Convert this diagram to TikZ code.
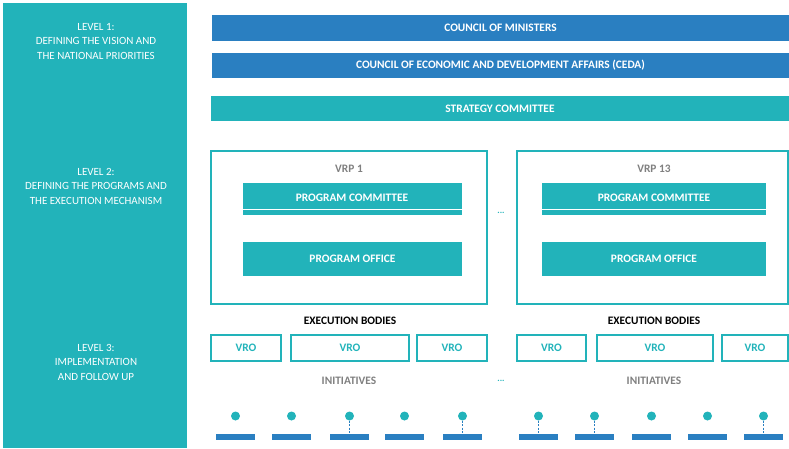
\documentclass[tikz,border=0pt]{standalone}
\usepackage{fontspec}
\setmainfont{Carlito}

\definecolor{panelteal}{HTML}{22B3BA}
\definecolor{barblue}{HTML}{2A7FC1}
\definecolor{labelgrey}{HTML}{808080}

\tikzset{
  corner/.style={anchor=north west, inner sep=0pt, outer sep=0pt},
  boldfont/.style={font=\bfseries\fontsize{11.4}{13}\selectfont},
  bluebar/.style={corner, boldfont, fill=barblue, text=white},
  tealbar/.style={corner, boldfont, fill=panelteal, text=white},
  vrpbox/.style={corner, draw=panelteal, line width=1.2pt},
  vrobox/.style={corner, boldfont, draw=panelteal, line width=1.2pt, text=panelteal},
  leveltext/.style={text=white, align=center, font=\fontsize{11}{14.5}\selectfont},
  heading/.style={boldfont},
  initdot/.style={circle, fill=panelteal, inner sep=0pt, minimum size=9pt},
  initbar/.style={corner, fill=barblue, minimum width=39pt, minimum height=6pt},
  stem/.style={barblue, dashed, dash pattern=on 2pt off 1.5pt, line width=0.6pt},
  dots/.style={text=panelteal, font=\bfseries\fontsize{9}{10}\selectfont}
}

\begin{document}
\begin{tikzpicture}[x=1pt,y=-1pt]
  \useasboundingbox (0,0) rectangle (789,448);

  % levels
  \fill[panelteal] (3,3) rectangle (187,448);
  \node[leveltext] (lvl1) at (96,41) {LEVEL 1:\\DEFINING THE VISION AND\\THE NATIONAL PRIORITIES};
  \node[leveltext] (lvl2) at (96,186) {LEVEL 2:\\DEFINING THE PROGRAMS AND\\THE EXECUTION MECHANISM};
  \node[leveltext] (lvl3) at (96,362) {LEVEL 3:\\IMPLEMENTATION\\AND FOLLOW UP};

  % councils
  \node[bluebar, minimum width=577pt, minimum height=26pt] (ministers) at (212,15) {COUNCIL OF MINISTERS};
  \node[bluebar, minimum width=577pt, minimum height=25pt] (ceda) at (212,53) {COUNCIL OF ECONOMIC AND DEVELOPMENT AFFAIRS (CEDA)};
  \node[tealbar, minimum width=578pt, minimum height=25pt] (strategy) at (211,96) {STRATEGY COMMITTEE};

  % programs
  \node[vrpbox, minimum width=276pt, minimum height=153pt] (vrp1) at (211,151) {};
  \node[heading, text=labelgrey] (vrp1t) at (349,169) {VRP 1};
  \node[tealbar, minimum width=219pt, minimum height=32pt] (pc1) at (243,183) {};
  \draw[white, line width=0.9pt] (243,209) -- (462,209);
  \node[boldfont, text=white] (pc1t) at (352,198) {PROGRAM COMMITTEE};
  \node[tealbar, minimum width=219pt, minimum height=34pt] (po1) at (243,242) {PROGRAM OFFICE};

  \node[dots] (gap1) at (501,213) {...};

  \node[vrpbox, minimum width=271pt, minimum height=153pt] (vrp13) at (517,151) {};
  \node[heading, text=labelgrey] (vrp13t) at (654,169) {VRP 13};
  \node[tealbar, minimum width=224pt, minimum height=32pt] (pc13) at (542,183) {};
  \draw[white, line width=0.9pt] (542,209) -- (766,209);
  \node[boldfont, text=white] (pc13t) at (654,198) {PROGRAM COMMITTEE};
  \node[tealbar, minimum width=224pt, minimum height=34pt] (po13) at (542,242) {PROGRAM OFFICE};

  % execution bodies
  \node[heading] (exec1) at (350,321) {EXECUTION BODIES};
  \node[vrobox, minimum width=70pt, minimum height=26pt] (vroa) at (211,335) {VRO};
  \node[vrobox, minimum width=118pt, minimum height=26pt] (vrob) at (291,335) {VRO};
  \node[vrobox, minimum width=70pt, minimum height=26pt] (vroc) at (417,335) {VRO};

  \node[heading] (exec13) at (654,321) {EXECUTION BODIES};
  \node[vrobox, minimum width=69pt, minimum height=26pt] (vrod) at (517,335) {VRO};
  \node[vrobox, minimum width=116pt, minimum height=26pt] (vroe) at (597,335) {VRO};
  \node[vrobox, minimum width=66pt, minimum height=26pt] (vrof) at (722,335) {VRO};

  % initiatives
  \node[heading, text=labelgrey] (init1) at (349,381) {INITIATIVES};
  \node[heading, text=labelgrey] (init13) at (654,381) {INITIATIVES};
  \node[dots] (gap2) at (501,381) {...};

  \foreach \x/\k in {216/a,272/b,330/c,385/d,443/e,519/f,575/g,632/h,688/i,744/j} {
    \node[initbar] (bar\k) at (\x,434) {};
    \node[initdot] (dot\k) at ([yshift=18pt]bar\k.north) {};
  }
  \foreach \k in {c,e,f,g,j}
    \draw[stem] (dot\k.south) -- (bar\k.north);
\end{tikzpicture}
\end{document}
